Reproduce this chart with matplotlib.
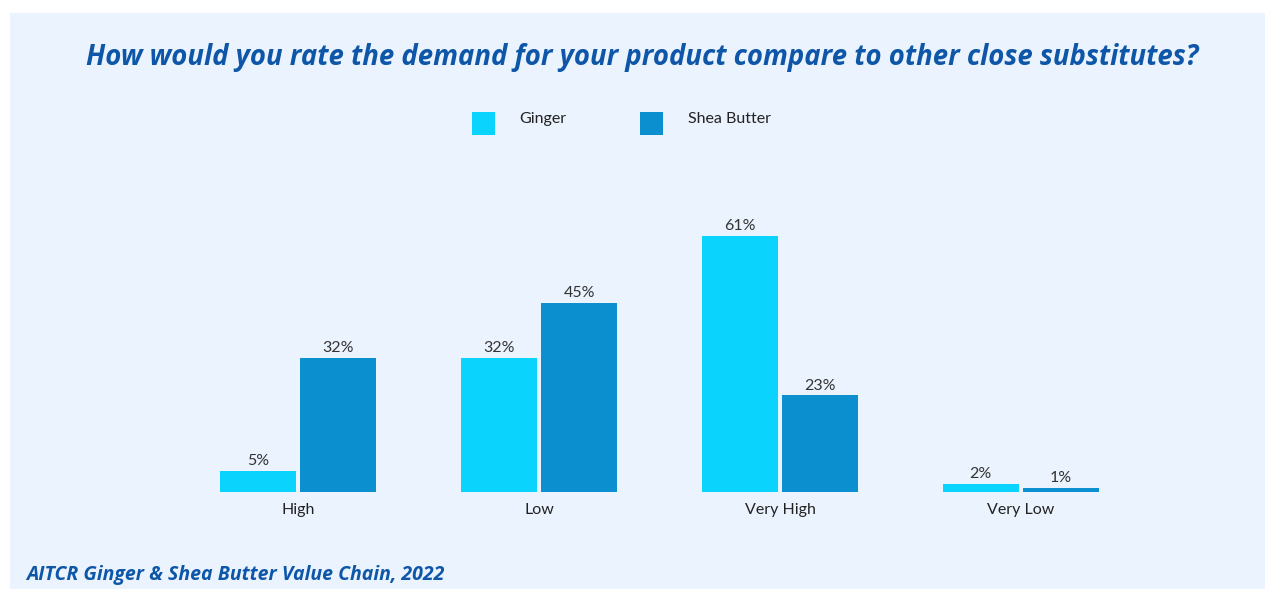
import matplotlib.pyplot as plt
from matplotlib.patches import Rectangle
import numpy as np

# survey answers, percent of respondents
categories = ['High', 'Low', 'Very High', 'Very Low']
ginger = [5, 32, 61, 2]
shea_butter = [32, 45, 23, 1]

ginger_color = '#0AD3FD'
shea_color = '#0B8FCF'
bg_color = '#EBF3FE'
title_color = '#0D56A8'
text_color = '#222222'

plt.rcParams['font.family'] = ['Lato', 'DejaVu Sans']

W, H = 1265, 589
fig = plt.figure(figsize=(W / 100, H / 100), dpi=100)
fig.patch.set_facecolor('white')

# light panel behind everything
fig.patches.append(Rectangle((10 / W, 0), 1 - 10 / W, 1 - 13 / H,
                             transform=fig.transFigure, facecolor=bg_color,
                             edgecolor='none', zorder=-5))

# axes placed in pixels: baseline at y=492, 4.2 px per percent
left, right = 177.5, 1141.5
base, top = 492, 492 - 70 * 4.2
ax = fig.add_axes([left / W, 1 - base / H, (right - left) / W, (base - top) / H])
ax.set_facecolor('none')
ax.set_zorder(2)

x = np.arange(len(categories))
w = 0.315
off = 0.167
b1 = ax.bar(x - off, ginger, w, color=ginger_color, zorder=2)
b2 = ax.bar(x + off, shea_butter, w, color=shea_color, zorder=2)

for bars, vals in ((b1, ginger), (b2, shea_butter)):
    for r, v in zip(bars, vals):
        ax.text(r.get_x() + r.get_width() / 2, v + 0.6, f'{v}%',
                ha='center', va='bottom', fontsize=11.5, color='#333333')

ax.set_xlim(-0.5, 3.5)
ax.set_ylim(0, 70)
ax.set_xticks(x)
ax.set_xticklabels(categories, fontsize=11.5, color=text_color)
ax.tick_params(axis='x', length=0, pad=8)
ax.set_yticks([])
for s in ax.spines.values():
    s.set_visible(False)

# title and source note
fig.text(642 / W, 1 - 58 / H,
         'How would you rate the demand for your product compare to other close substitutes?',
         ha='center', va='center', fontsize=19.8, fontweight='bold', style='italic',
         color=title_color, family=['Open Sans', 'DejaVu Sans'])
fig.text(26 / W, 1 - 575 / H, 'AITCR Ginger & Shea Butter Value Chain, 2022',
         ha='left', va='center', fontsize=14, fontweight='bold', style='italic',
         color=title_color, family=['Open Sans', 'DejaVu Sans'])

# legend built by hand
for sx, tx, col, label in ((472, 519, ginger_color, 'Ginger'),
                           (640, 688, shea_color, 'Shea Butter')):
    fig.patches.append(Rectangle((sx / W, 1 - 135 / H), 23 / W, 23 / H,
                                 transform=fig.transFigure, facecolor=col,
                                 edgecolor='none', zorder=1))
    fig.text(tx / W, 1 - 119 / H, label, ha='left', va='center',
             fontsize=11.5, color=text_color)

fig.savefig('out.png', dpi=100, facecolor=fig.get_facecolor())
